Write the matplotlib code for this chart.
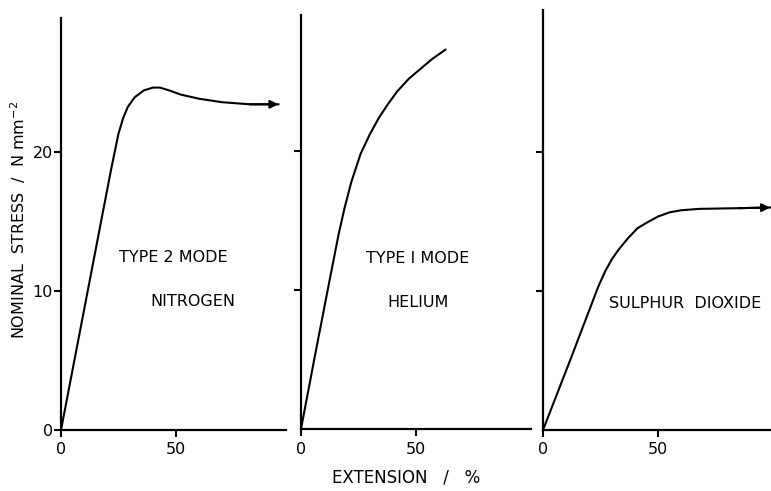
import matplotlib
matplotlib.use('Agg')
import matplotlib.pyplot as plt

# stress-strain curves, extension in %, stress in N mm^-2
n2_ext = [0, 10, 20, 22, 25, 27, 29, 32, 36, 40, 43, 47, 52, 60, 70, 82, 94.5]
n2_stress = [0, 8.6, 17.2, 18.9, 21.3, 22.4, 23.2, 23.9, 24.4, 24.6, 24.6,
             24.4, 24.1, 23.8, 23.55, 23.4, 23.4]

he_ext = [0, 6, 12, 16.4, 19, 22, 26, 30, 34, 38, 42, 47, 52, 57, 63]
he_stress = [0, 5.2, 10.3, 14.0, 15.9, 17.8, 19.8, 21.2, 22.4, 23.4, 24.3,
             25.2, 25.9, 26.6, 27.3]

so2_ext = [0, 12, 24, 27, 30, 33, 37, 41, 45, 50, 55, 60, 68, 85, 98.7]
so2_stress = [0, 5.1, 10.3, 11.4, 12.3, 13.0, 13.8, 14.5, 14.9, 15.35, 15.65,
              15.8, 15.9, 15.95, 16.0]

x_ticks = [0, 50]
y_ticks = [0, 10, 20]

W, H = 771, 491
fig = plt.figure(figsize=(W / 100, H / 100), dpi=100)
fig.patch.set_facecolor('white')


def box(left, right, top, bottom):
    # pixel box -> figure fraction
    return [left / W, (H - bottom) / H, (right - left) / W, (bottom - top) / H]


def panel(rect, xmax, ymax, ext, stress, arrow, labelled):
    ax = fig.add_axes(rect)
    ax.plot(ext, stress, '-', color='black', linewidth=1.5, clip_on=False,
            solid_joinstyle='round')
    if arrow:
        ax.annotate('', xy=(ext[-1], stress[-1]), xytext=(ext[-2], stress[-2]),
                    arrowprops=dict(arrowstyle='-|>', color='black', lw=1.5,
                                    mutation_scale=12, shrinkA=0, shrinkB=0),
                    annotation_clip=False)
    ax.set_xlim(0, xmax)
    ax.set_ylim(0, ymax)
    ax.spines['top'].set_visible(False)
    ax.spines['right'].set_visible(False)
    ax.spines['left'].set_linewidth(1.6)
    ax.spines['bottom'].set_linewidth(1.6)
    ax.set_xticks(x_ticks)
    ax.set_xticklabels([str(v) for v in x_ticks])
    if labelled:
        ax.set_yticks(y_ticks)
        ax.set_yticklabels([str(v) for v in y_ticks])
    else:
        ax.set_yticks(y_ticks[1:])
        ax.set_yticklabels([])
    ax.tick_params(direction='out', length=5, width=1.5, labelsize=11.5)
    ax.tick_params(axis='x', pad=4)
    ax.tick_params(axis='y', pad=1)
    ax.patch.set_alpha(0)
    return ax


ax1 = panel(box(61, 286, 18, 430), 97.8, 29.6, n2_ext, n2_stress, True, True)
ax2 = panel(box(301, 531, 15, 429), 100.4, 29.8, he_ext, he_stress, False, False)
ax3 = panel(box(543, 771, 10, 430), 99.1, 30.2, so2_ext, so2_stress, True, False)

fs = 11.5
ax1.text(49, 12.4, 'TYPE 2 MODE', ha='center', va='center', fontsize=fs)
ax1.text(57.5, 9.2, 'NITROGEN', ha='center', va='center', fontsize=fs)
ax2.text(51, 12.3, 'TYPE I MODE', ha='center', va='center', fontsize=fs)
ax2.text(51, 9.1, 'HELIUM', ha='center', va='center', fontsize=fs)
ax3.text(61.7, 9.1, 'SULPHUR  DIOXIDE', ha='center', va='center', fontsize=fs)

fig.text(18 / W, 1 - 220 / H, 'NOMINAL  STRESS  /  N mm$^{-2}$', rotation=90,
         ha='center', va='center', fontsize=11.5)
fig.text(406 / W, 1 - 478 / H, 'EXTENSION   /   %', ha='center', va='center',
         fontsize=12)

fig.savefig('out.png', dpi=100)
